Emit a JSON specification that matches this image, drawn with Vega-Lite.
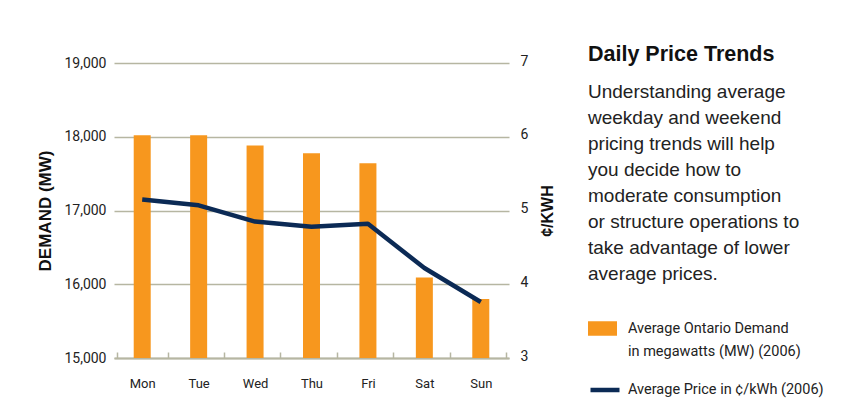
{
  "$schema": "https://vega.github.io/schema/vega-lite/v6.json",
  "width": 395,
  "height": 295,
  "autosize": {"type": "none"},
  "padding": {"left": 114, "top": 63, "right": 336, "bottom": 62},
  "background": "white",
  "data": {
    "values": [
      {"day": "Mon", "demand": 18020, "price": 5.15},
      {"day": "Tue", "demand": 18020, "price": 5.07},
      {"day": "Wed", "demand": 17880, "price": 4.85},
      {"day": "Thu", "demand": 17775, "price": 4.78},
      {"day": "Fri", "demand": 17640, "price": 4.82},
      {"day": "Sat", "demand": 16090, "price": 4.22},
      {"day": "Sun", "demand": 15800, "price": 3.76}
    ]
  },
  "title": {
    "text": "Daily Price Trends",
    "subtitle": [
      "Understanding average",
      "weekday and weekend",
      "pricing trends will help",
      "you decide how to",
      "moderate consumption",
      "or structure operations to",
      "take advantage of lower",
      "average prices."
    ],
    "anchor": "start",
    "orient": "top",
    "frame": "group",
    "offset": 0,
    "dx": 474,
    "dy": 230,
    "font": "Liberation Sans",
    "fontSize": 21.5,
    "fontWeight": "bold",
    "color": "#111111",
    "subtitleFont": "Liberation Sans",
    "subtitleFontSize": 19,
    "subtitleColor": "#222222",
    "subtitleLineHeight": 26,
    "subtitlePadding": 18
  },
  "layer": [
    {
      "mark": {"type": "bar", "size": 17},
      "encoding": {
        "x": {
          "field": "day",
          "type": "nominal",
          "sort": null,
          "axis": {
            "title": null,
            "labelAngle": 0,
            "labelOverlap": false,
            "tickBand": "extent",
            "tickSize": -6,
            "tickColor": "#b6b6a2",
            "tickWidth": 1.5,
            "domainColor": "#b6b6a2",
            "domainWidth": 2,
            "labelPadding": 25,
            "labelFontSize": 13
          }
        },
        "y": {
          "field": "demand",
          "type": "quantitative",
          "scale": {"domain": [15000, 19000], "zero": false},
          "axis": {
            "title": "DEMAND (MW)",
            "values": [15000, 16000, 17000, 18000, 19000],
            "format": ",.0f",
            "grid": true,
            "gridColor": "#b6b6a2",
            "gridWidth": 1.5,
            "domain": false,
            "ticks": false,
            "labelPadding": 8,
            "labelFontSize": 14,
            "titlePadding": 9,
            "titleFont": "Liberation Sans",
            "titleFontSize": 17,
            "titleFontWeight": "bold",
            "titleColor": "#111111"
          }
        },
        "y2": {"datum": 15000},
        "color": {
          "datum": "Average Ontario Demand|in megawatts (MW) (2006)",
          "scale": {"range": ["#f7971e"]},
          "legend": {
            "orient": "none",
            "legendX": 474,
            "legendY": 251,
            "title": null,
            "padding": 0,
            "symbolType": "M-1,-0.5H1V0.5H-1Z",
            "symbolSize": 841,
            "symbolStrokeWidth": 0,
            "symbolOpacity": 1,
            "labelExpr": "split(datum.label, '|')",
            "labelFontSize": 14.5,
            "labelColor": "#222222",
            "labelLimit": 300,
            "labelOffset": 11,
            "encoding": {"labels": {"lineHeight": {"value": 23}}}
          }
        }
      }
    },
    {
      "mark": {"type": "line", "strokeWidth": 4.5, "strokeJoin": "round"},
      "encoding": {
        "x": {"field": "day", "type": "nominal", "sort": null},
        "y": {
          "field": "price",
          "type": "quantitative",
          "scale": {"domain": [3, 7], "zero": false},
          "axis": {
            "orient": "right",
            "title": "¢/KWH",
            "values": [3, 4, 5, 6, 7],
            "grid": false,
            "domain": false,
            "ticks": false,
            "labelPadding": 11,
            "labelOffset": -2,
            "labelFontSize": 14,
            "titleAngle": -90,
            "titleBaseline": "top",
            "titlePadding": 12,
            "titleFont": "Liberation Sans",
            "titleFontSize": 16,
            "titleFontWeight": "bold",
            "titleColor": "#111111"
          }
        },
        "stroke": {
          "datum": "Average Price in ¢/kWh (2006)",
          "scale": {"range": ["#0b2a55"]},
          "legend": {
            "orient": "none",
            "legendX": 474,
            "legendY": 310,
            "title": null,
            "padding": 0,
            "symbolType": "M-1,0H1",
            "symbolSize": 841,
            "symbolStrokeWidth": 4.5,
            "labelFontSize": 14.5,
            "labelColor": "#222222",
            "labelLimit": 300,
            "labelOffset": 6
          }
        }
      }
    }
  ],
  "resolve": {"scale": {"y": "independent"}},
  "config": {
    "view": {"stroke": null},
    "axis": {
      "labelFont": "Roboto",
      "labelColor": "#222222"
    },
    "legend": {
      "labelFont": "Roboto"
    }
  }
}
